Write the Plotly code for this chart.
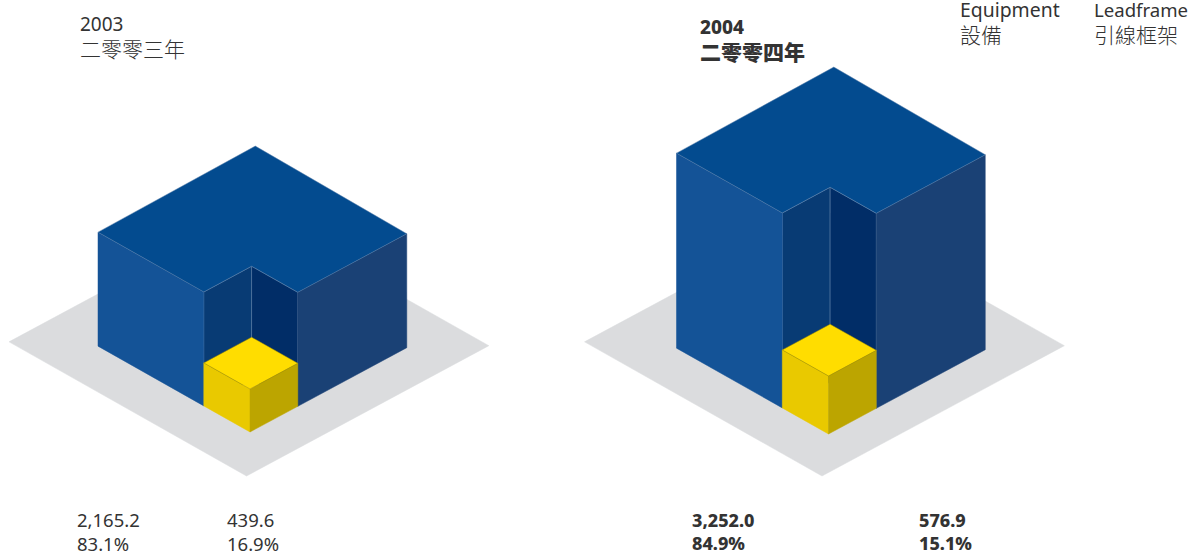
import plotly.graph_objects as go

# Turnover by product line, HK$ million
years = ["2003", "2004"]
year_labels = ["二零零三年", "二零零四年"]
equipment = [2165.2, 3252.0]
leadframe = [439.6, 576.9]
equipment_share = [83.1, 84.9]
leadframe_share = [16.9, 15.1]
series_names = [("Equipment", "設備"), ("Leadframe", "引線框架")]

# Value units represented by one pixel of block height, per year
EQUIPMENT_UNITS_PER_PX = [19.0, 16.68]
LEADFRAME_UNITS_PER_PX = [10.22, 9.95]

# Isometric projection: screen offset of one plan unit along each ground axis
U = (-46.2, -26.1)
V = (47.8, -25.7)

# Screen position of the front corner of the small block, and of the ground plate
FRONT = [(250.0, 432.0), (828.5, 434.0)]
PLATE_FRONT = [(246.5, 476.0), (822.0, 476.0)]
BLOCK_U, BLOCK_V = 3.29, 3.28
BACK_U, BACK_V = 3.32, 3.32
PLATE_U, PLATE_V = 5.14, 5.07

C_PLATE = "#dbdcde"
C_TOP, C_LEFT, C_RIGHT = "#034b8f", "#145397", "#1a4175"
C_IN_LEFT, C_IN_RIGHT = "#083b74", "#012d67"
C_Y_TOP, C_Y_LEFT, C_Y_RIGHT = "#ffdd00", "#e9c900", "#bca500"
EDGE_BLUE = "#5f83ad"
EDGE_YELLOW = "#a08c00"
TEXT = "#333333"
FONT = '"Noto Sans", "Noto Sans CJK TC"'


def project(origin, u, v, h=0.0):
    return (origin[0] + u * U[0] + v * V[0], origin[1] + u * U[1] + v * V[1] - h)


def face(fig, points, color, edge=None):
    xs = [p[0] for p in points] + [points[0][0]]
    ys = [p[1] for p in points] + [points[0][1]]
    fig.add_trace(go.Scatter(
        x=xs, y=ys, mode="lines", fill="toself", fillcolor=color,
        line=dict(color=edge or color, width=0.5),
        hoverinfo="skip", showlegend=False,
    ))


def draw_year(fig, i):
    o = FRONT[i]
    p = PLATE_FRONT[i]
    h = equipment[i] / EQUIPMENT_UNITS_PER_PX[i]
    k = leadframe[i] / LEADFRAME_UNITS_PER_PX[i]
    bu, bv = BLOCK_U, BLOCK_V

    # Ground plate
    face(fig, [project(p, 0, 0), project(p, PLATE_U, 0),
               project(p, PLATE_U, PLATE_V), project(p, 0, PLATE_V)], C_PLATE)

    # Equipment: an L-shaped block with the front corner cut away
    face(fig, [project(o, 1, 0), project(o, 1, 1), project(o, 1, 1, h), project(o, 1, 0, h)],
         C_IN_LEFT, EDGE_BLUE)
    face(fig, [project(o, 0, 1), project(o, 1, 1), project(o, 1, 1, h), project(o, 0, 1, h)],
         C_IN_RIGHT, EDGE_BLUE)
    face(fig, [project(o, 1, 0), project(o, bu, 0), project(o, bu, 0, h), project(o, 1, 0, h)],
         C_LEFT, C_LEFT)
    face(fig, [project(o, 0, 1), project(o, 0, bv), project(o, 0, bv, h), project(o, 0, 1, h)],
         C_RIGHT, C_RIGHT)
    face(fig, [project(o, BACK_U, BACK_V, h), project(o, bu, 0, h), project(o, 1, 0, h),
               project(o, 1, 1, h), project(o, 0, 1, h), project(o, 0, bv, h)],
         C_TOP, EDGE_BLUE)

    # Leadframe: the small cube standing in the cut-away corner
    face(fig, [project(o, 0, 0), project(o, 1, 0), project(o, 1, 0, k), project(o, 0, 0, k)],
         C_Y_LEFT)
    face(fig, [project(o, 0, 0), project(o, 0, 1), project(o, 0, 1, k), project(o, 0, 0, k)],
         C_Y_RIGHT)
    face(fig, [project(o, 0, 0, k), project(o, 1, 0, k), project(o, 1, 1, k), project(o, 0, 1, k)],
         C_Y_TOP, EDGE_YELLOW)


fig = go.Figure()
for i in range(len(years)):
    draw_year(fig, i)


def label(x, y, text, size=20, weight=400):
    # Two-line block; annotation padding is pulled back so the text sits on its anchor
    fig.add_annotation(
        x=x, y=y, xref="x", yref="y", text=text, showarrow=False,
        xanchor="left", yanchor="middle", align="left",
        xshift=-2, yshift=1.5,
        font=dict(family=FONT, size=size, color=TEXT, weight=weight),
    )


def two_lines(latin, cjk, latin_px, cjk_weight):
    return (f'<span style="font-size:{latin_px}px">{latin}</span><br>'
            f'<span style="font-size:21px;font-weight:{cjk_weight}">{cjk}</span>')


# Year headings
label(79.5, 38, two_lines(years[0], year_labels[0], 19, 300))
label(700, 41, two_lines(years[1], year_labels[1], 19, 800), weight=800)

# Series names
label(960, 24, two_lines(*series_names[0], 19.4, 300))
label(1093.5, 24, two_lines(*series_names[1], 18.6, 300))

# Values and shares under each year
value_x = [(77, 227), (691.5, 918.5)]
sizes = [18.5, 18.0]
weights = [400, 800]
for i in range(len(years)):
    for x, val, share in ((value_x[i][0], equipment[i], equipment_share[i]),
                          (value_x[i][1], leadframe[i], leadframe_share[i])):
        label(x, 533, f"{val:,.1f}<br>{share:.1f}%", sizes[i], weights[i])

fig.update_layout(
    width=1189, height=551,
    margin=dict(l=0, r=0, t=0, b=0),
    paper_bgcolor="white", plot_bgcolor="white",
    xaxis=dict(range=[0, 1189], visible=False, fixedrange=True),
    yaxis=dict(range=[551, 0], visible=False, fixedrange=True),
    showlegend=False,
)
fig.write_html("out.html", config={"displayModeBar": False})
